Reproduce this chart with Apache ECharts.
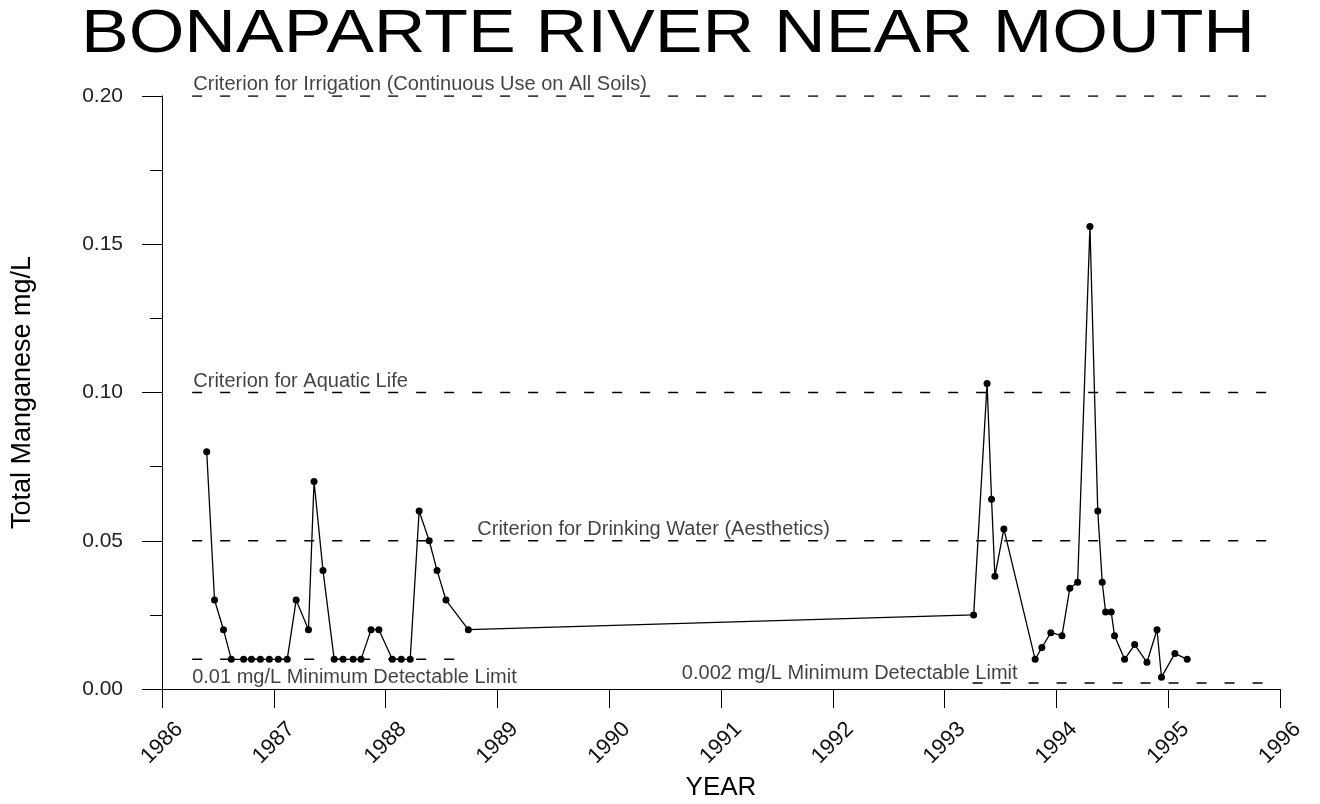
<!DOCTYPE html>
<html>
<head>
<meta charset="utf-8">
<script src="https://cdn.jsdelivr.net/npm/echarts@6/dist/echarts.min.js"></script>
<style>
	html,body{margin:0;padding:0;background:#fff;}
	#chart{width:1320px;height:804px;}
</style>
</head>
<body>
<div id="chart"></div>
<script>
	// sample dates (decimal year) and total manganese, mg/L
	var sampleYears = [
		1986.40, 1986.47, 1986.55, 1986.62, 1986.73, 1986.80, 1986.88, 1986.96, 1987.04, 1987.12,
		1987.20, 1987.31, 1987.36, 1987.44, 1987.54, 1987.62, 1987.71, 1987.78, 1987.87, 1987.94,
		1988.06, 1988.14, 1988.22, 1988.30, 1988.39, 1988.46, 1988.54, 1988.74,
		1993.26, 1993.38, 1993.42, 1993.45, 1993.53, 1993.81, 1993.87, 1993.95, 1994.05, 1994.12,
		1994.19, 1994.30, 1994.37, 1994.41, 1994.44, 1994.49, 1994.52, 1994.61, 1994.70, 1994.81,
		1994.90, 1994.94, 1995.06, 1995.17
	];
	var manganese = [
		0.080, 0.030, 0.020, 0.010, 0.010, 0.010, 0.010, 0.010, 0.010, 0.010,
		0.030, 0.020, 0.070, 0.040, 0.010, 0.010, 0.010, 0.010, 0.020, 0.020,
		0.010, 0.010, 0.010, 0.060, 0.050, 0.040, 0.030, 0.020,
		0.025, 0.103, 0.064, 0.038, 0.054, 0.010, 0.014, 0.019, 0.018, 0.034,
		0.036, 0.156, 0.060, 0.036, 0.026, 0.026, 0.018, 0.010, 0.015, 0.009,
		0.020, 0.004, 0.012, 0.010
	];

	// criteria / detection limits
	var refValues = [0.20, 0.10, 0.05, 0.01, 0.002];
	var refFrom   = [1986.27, 1986.27, 1986.27, 1986.27, 1993.25];
	var refTo     = [1996, 1996, 1996, 1988.62, 1996];
	var refText   = [
		'Criterion for Irrigation (Continuous Use on All Soils)',
		'Criterion for Aquatic Life',
		'Criterion for Drinking Water (Aesthetics)',
		'0.01 mg/L Minimum Detectable Limit',
		'0.002 mg/L Minimum Detectable Limit'
	];
	var refTextYear = [1986.28, 1986.28, 1988.82, 1986.27, 1990.65];

	var yearMin = 1986, yearMax = 1996;
	var yTicks = [0, 0.05, 0.10, 0.15, 0.20];

	var font = '"Liberation Sans", Arial, sans-serif';
	var textDy = [-12, -11, -11, 18, -10];

	var points = sampleYears.map(function(y, i){ return [y, manganese[i]]; });

	var series = [];
	refValues.forEach(function(v, i){
		series.push({
			type: 'line',
			data: [[refFrom[i], v], [refTo[i], v]],
			symbol: 'none',
			silent: true,
			lineStyle: {color: '#000', width: 1.5, type: [10, 18]},
			z: 1
		});
	});
	series.push({
		type: 'scatter',
		symbolSize: 0,
		silent: true,
		itemStyle: {color: 'transparent'},
		data: refText.map(function(t, i){
			return {
				value: [refTextYear[i], refValues[i]],
				name: t,
				label: {position: [0, textDy[i]]}
			};
		}),
		label: {
			show: true,
			formatter: function(p){ return p.name; },
			align: 'left',
			verticalAlign: 'middle',
			color: '#111',
			fontFamily: font,
			fontSize: 20
		},
		z: 3
	});
	series.push({
		type: 'line',
		data: points,
		symbol: 'circle',
		symbolSize: 7,
		showSymbol: true,
		itemStyle: {color: '#000'},
		lineStyle: {color: '#000', width: 1.3},
		z: 5
	});

	var option = {
		animation: false,
		backgroundColor: '#fff',
		graphic: [{
			type: 'text',
			x: 668,
			y: 35,
			scaleX: 1.154,
			style: {
				text: 'BONAPARTE RIVER NEAR MOUTH',
				font: 'normal 62px ' + font,
				fill: '#000',
				textAlign: 'center',
				textVerticalAlign: 'middle'
			}
		}],
		grid: {left: 162, right: 40, top: 96, bottom: 115, outerBoundsMode: 'none', containLabel: false},
		xAxis: {
			type: 'value',
			min: yearMin,
			max: yearMax,
			interval: 1,
			name: 'YEAR',
			nameLocation: 'middle',
			nameGap: 84,
			nameTextStyle: {fontFamily: font, fontSize: 26, color: '#000'},
			axisLine: {onZero: false, lineStyle: {color: '#000', width: 1}},
			axisTick: {length: 19, lineStyle: {color: '#000'}},
			axisLabel: {
				rotate: 45,
				align: 'center',
				verticalAlign: 'middle',
				margin: 54,
				fontFamily: font,
				fontSize: 22,
				color: '#111',
				formatter: function(v){ return String(v); }
			},
			splitLine: {show: false}
		},
		yAxis: {
			type: 'value',
			min: yTicks[0],
			max: yTicks[yTicks.length - 1],
			interval: 0.05,
			name: 'Total Manganese mg/L',
			nameLocation: 'middle',
			nameRotate: 90,
			nameGap: 126,
			nameTextStyle: {fontFamily: font, fontSize: 27, color: '#000'},
			axisLine: {show: true, lineStyle: {color: '#000', width: 1}},
			axisTick: {show: true, length: 20, lineStyle: {color: '#000'}},
			minorTick: {show: true, splitNumber: 2, length: 12, lineStyle: {color: '#000'}},
			axisLabel: {
				margin: 39,
				fontFamily: font,
				fontSize: 21,
				color: '#222',
				formatter: function(v){ return v.toFixed(2); }
			},
			splitLine: {show: false}
		},
		series: series
	};

	var myChart = echarts.init(document.getElementById('chart'));
	myChart.setOption(option);
</script>
</body>
</html>
